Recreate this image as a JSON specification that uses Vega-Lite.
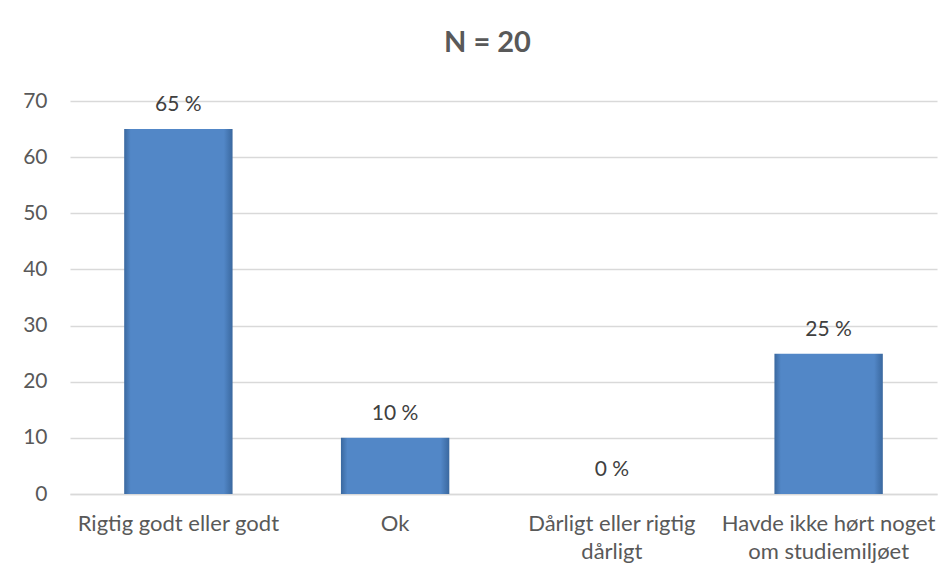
{
  "$schema": "https://vega.github.io/schema/vega-lite/v6.json",
  "autosize": "none",
  "width": 867,
  "height": 393,
  "padding": {"left": 70, "top": 101, "right": 15, "bottom": 86},
  "background": "white",
  "config": {
    "view": {"stroke": null},
    "font": "Lato",
    "axis": {"labelFont": "Lato", "labelColor": "#595959", "titleFont": "Lato"}
  },
  "title": {"text": "N = 20", "fontSize": 29, "fontWeight": "bold", "color": "#595959", "font": "Lato", "offset": 32, "anchor": "middle", "dx": -16},
  "data": {
    "values": [
      {"kategori": "Rigtig godt eller godt", "procent": 65, "label": "65 %"},
      {"kategori": "Ok", "procent": 10, "label": "10 %"},
      {"kategori": "Dårligt eller rigtig dårligt", "procent": 0, "label": "0 %"},
      {"kategori": "Havde ikke hørt noget om studiemiljøet", "procent": 25, "label": "25 %"}
    ]
  },
  "encoding": {
    "x": {
      "field": "kategori", "type": "nominal", "sort": null, "title": null,
      "scale": {"paddingInner": 0.5, "paddingOuter": 0.25},
      "axis": {
        "labelAngle": 0, "ticks": false, "domainColor": "#D9D9D9", "domainWidth": 1.5,
        "labelFontSize": 22, "labelPadding": 19, "labelLineHeight": 28, "labelBaseline": "top",
        "labelLimit": 400, "labelOverlap": false, "labelBound": false,
        "labelExpr": "datum.label == 'Dårligt eller rigtig dårligt' ? ['Dårligt eller rigtig', 'dårligt'] : datum.label == 'Havde ikke hørt noget om studiemiljøet' ? ['Havde ikke hørt noget', 'om studiemiljøet'] : datum.label"
      }
    },
    "y": {
      "field": "procent", "type": "quantitative", "title": null,
      "scale": {"domain": [0, 70]},
      "axis": {"values": [0, 10, 20, 30, 40, 50, 60, 70], "domain": false, "ticks": false, "gridColor": "#D9D9D9", "gridWidth": 1.3, "labelPadding": 23, "labelFontSize": 21}
    }
  },
  "layer": [
    {
      "mark": {
        "type": "bar",
        "color": {
          "gradient": "linear", "x1": 0, "y1": 0, "x2": 1, "y2": 0,
          "stops": [
            {"offset": 0, "color": "#3A689F"},
            {"offset": 0.06, "color": "#5287C7"},
            {"offset": 0.92, "color": "#5287C7"},
            {"offset": 1, "color": "#3A689F"}
          ]
        }
      }
    },
    {
      "mark": {"type": "text", "baseline": "middle", "dy": -24, "fontSize": 21, "color": "#404040", "font": "Lato"},
      "encoding": {"text": {"field": "label"}}
    }
  ]
}
